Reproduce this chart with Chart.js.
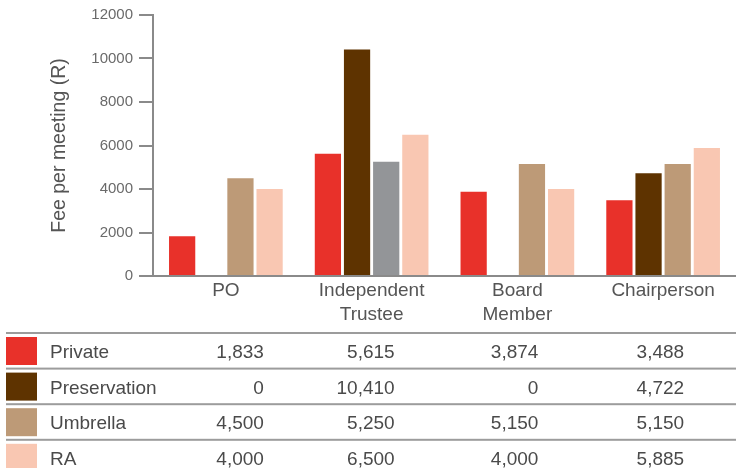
<!DOCTYPE html>
<html>
<head>
<meta charset="utf-8">
<script src="https://cdn.jsdelivr.net/npm/chart.js@4.4.0/dist/chart.umd.min.js"></script>
<style>
  html, body { margin: 0; padding: 0; background: #fff; }
  #wrap { position: relative; width: 736px; height: 468px; }
</style>
</head>
<body>
<div id="wrap"><canvas id="feeChart"></canvas></div>
<script>
const categories = ['PO', ['Independent', 'Trustee'], ['Board', 'Member'], 'Chairperson'];
const seriesNames = ['Private', 'Preservation', 'Umbrella', 'RA'];
const privateFees = [1833, 5615, 3874, 3488];
const preservationFees = [0, 10410, 0, 4722];
const umbrellaFees = [4500, 5250, 5150, 5150];
const raFees = [4000, 6500, 4000, 5885];
const yMax = 12000;
const yStep = 2000;

const FONT = "'Liberation Sans', Arial, Helvetica, sans-serif";
const seriesColors = ['#e8312a', '#5e3300', '#bd9a77', '#f9c7b2'];
// the umbrella bar for Independent Trustee is drawn in grey in the original
const umbrellaBarColors = ['#bd9a77', '#939598', '#bd9a77', '#bd9a77'];

const tablePlugin = {
  id: 'dataTable',
  afterDraw(chart) {
    const ctx = chart.ctx;
    const x = chart.scales.x;
    const rows = [privateFees, preservationFees, umbrellaFees, raFees];
    const top = 333;
    const rowH = 35.6;
    const colShift = [38, 23, 21, 21];
    ctx.save();
    ctx.font = '19px ' + FONT;
    ctx.textBaseline = 'middle';
    rows.forEach((vals, r) => {
      const y0 = top + r * rowH;
      ctx.fillStyle = '#9c9c9c';
      ctx.fillRect(6, y0 - 1, 730, 2);
      ctx.fillStyle = seriesColors[r];
      ctx.fillRect(6, y0 + 4, 31, 28);
      ctx.fillStyle = '#4a4a4a';
      ctx.textAlign = 'left';
      ctx.fillText(seriesNames[r], 50, y0 + 20);
      ctx.textAlign = 'right';
      vals.forEach((v, i) => {
        ctx.fillText(v.toLocaleString('en-US'), x.getPixelForValue(i) + colShift[i], y0 + 20);
      });
    });
    ctx.restore();
  }
};

new Chart(document.getElementById('feeChart'), {
  type: 'bar',
  data: {
    labels: categories,
    datasets: [
      { label: seriesNames[0], data: privateFees, backgroundColor: seriesColors[0] },
      { label: seriesNames[1], data: preservationFees, backgroundColor: seriesColors[1] },
      { label: seriesNames[2], data: umbrellaFees, backgroundColor: umbrellaBarColors },
      { label: seriesNames[3], data: raFees, backgroundColor: seriesColors[3] }
    ]
  },
  options: {
    responsive: true,
    maintainAspectRatio: false,
    animation: false,
    layout: { padding: { top: 15, right: 0, left: 0, bottom: 0 } },
    datasets: {
      bar: { categoryPercentage: 0.8, barPercentage: 0.9, borderWidth: 0 }
    },
    plugins: {
      legend: { display: false },
      tooltip: { enabled: false }
    },
    scales: {
      x: {
        grid: { display: false, drawTicks: false },
        border: { color: '#8a8a8a', width: 2 },
        ticks: {
          color: '#555',
          font: { family: FONT, size: 19, lineHeight: 1.27 },
          padding: 3,
          maxRotation: 0
        },
        afterFit(scale) { scale.height = 192; }
      },
      y: {
        min: 0,
        max: yMax,
        grid: {
          drawOnChartArea: false,
          drawTicks: true,
          tickLength: 14,
          color: '#8a8a8a',
          lineWidth: 2
        },
        border: { color: '#8a8a8a', width: 2 },
        ticks: {
          stepSize: yStep,
          color: '#6a6a6a',
          font: { family: FONT, size: 15 },
          padding: 6,
          callback: (v) => String(v)
        },
        title: {
          display: true,
          text: 'Fee per meeting (R)',
          color: '#555',
          font: { family: FONT, size: 19.5 },
          padding: { top: 48, bottom: 0 }
        },
        afterFit(scale) { scale.width = 153; }
      }
    }
  },
  plugins: [tablePlugin]
});
</script>
</body>
</html>
